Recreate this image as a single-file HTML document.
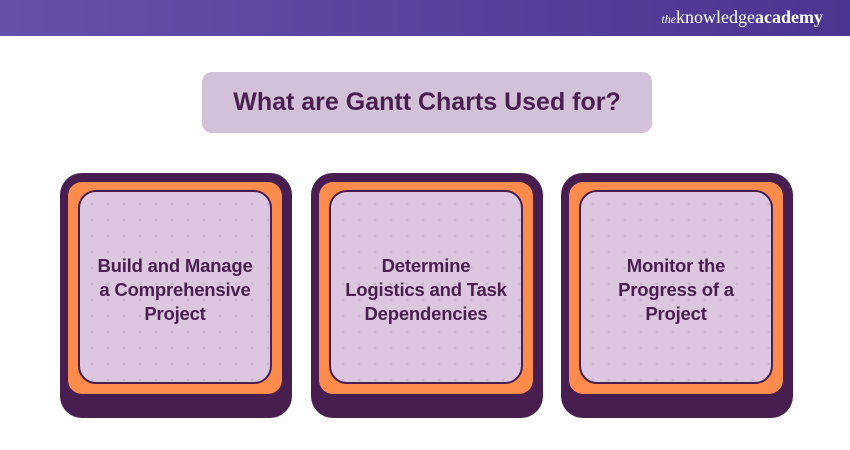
<!DOCTYPE html>
<html><head><style>
body{margin:0;width:850px;height:450px;background:#fff;position:relative;overflow:hidden;font-family:"Liberation Sans",sans-serif}
.hdr{position:absolute;left:0;top:0;width:850px;height:36px;background:linear-gradient(90deg,#6650aa,#4b3590)}
.logo{position:absolute;right:27px;top:7px;color:#fff;font-family:"Liberation Serif",serif;font-size:18px}
.logo i{font-size:12px}
.title{position:absolute;left:202px;top:72px;width:450px;height:61px;background:#d2c1d9;border-radius:10px;color:#4a1f50;font-weight:bold;font-size:25px;text-align:center;line-height:61px}
.c{position:absolute;top:173px;width:232px;height:245px}
.o{position:absolute;left:0;top:0;width:232px;height:245px;background:#471e4f;border-radius:22px}
.g{position:absolute;left:8px;top:9px;width:214px;height:212px;background:#fd8c4c;border-radius:14px}
.i{position:absolute;left:18px;top:17px;width:190px;height:184px;padding-top:6px;background:#dcc6e0;border:2px solid #471e4f;border-radius:18px;
background-image:radial-gradient(circle,#c9b3cf 1.3px,transparent 1.6px);background-size:16px 16px;background-position:4px 4px;
display:flex;align-items:center;justify-content:center;text-align:center;color:#4a1f50;font-weight:bold;font-size:18.5px;line-height:24px;letter-spacing:-0.2px}
</style></head><body>
<div class="hdr"><div class="logo"><i>the</i>knowledge<b>academy</b></div></div>
<div class="title">What are Gantt Charts Used for?</div>
<div class="c" style="left:60px"><div class="o"></div><div class="g"></div><div class="i">Build and Manage<br>a Comprehensive<br>Project</div></div>
<div class="c" style="left:311px"><div class="o"></div><div class="g"></div><div class="i">Determine<br>Logistics and Task<br>Dependencies</div></div>
<div class="c" style="left:561px"><div class="o"></div><div class="g"></div><div class="i">Monitor the<br>Progress of a<br>Project</div></div>
</body></html>
